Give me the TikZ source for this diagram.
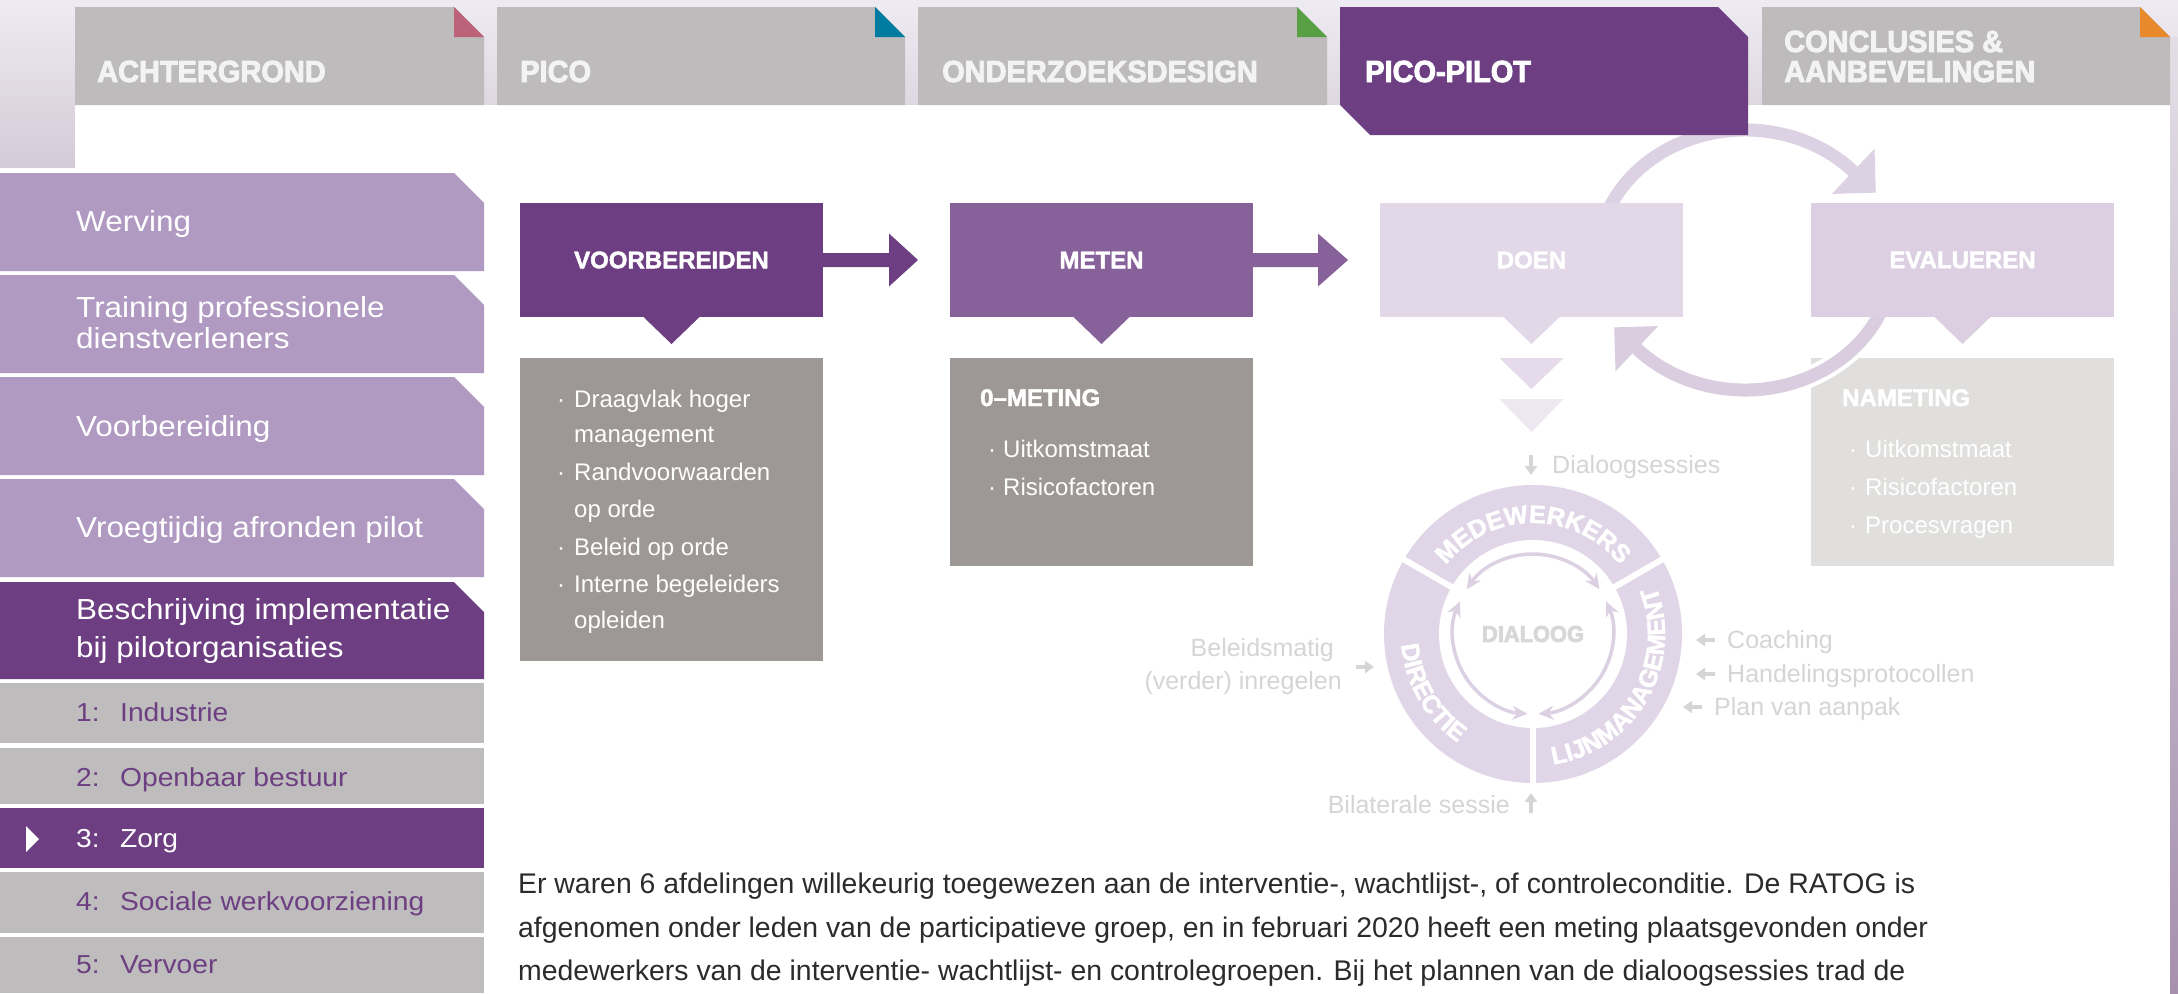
\documentclass[tikz,border=0pt]{standalone}
\usepackage{fontspec}
\setmainfont{Liberation Sans}
\newfontfamily\heavyfont{Liberation Sans}[BoldFeatures={FakeBold=3,FakeStretch=0.95}]
\newfontfamily\boxheavy{Liberation Sans}[BoldFeatures={FakeBold=2}]
\newfontfamily\menufont{Liberation Sans}[FakeStretch=1.085]
\usetikzlibrary{calc,decorations.text,arrows.meta}
\definecolor{bgl}{HTML}{EEEAF1}
\definecolor{bandb}{HTML}{DED7E2}
\definecolor{stripl}{HTML}{D3CAD7}
\definecolor{stripra}{HTML}{E3DEE6}
\definecolor{striprb}{HTML}{A690AE}
\definecolor{purD}{HTML}{6D3F82}
\definecolor{purM}{HTML}{87619A}
\definecolor{purL}{HTML}{B09AC2}
\definecolor{tabg}{HTML}{BDBBBC}
\definecolor{menug}{HTML}{BEBCBD}
\definecolor{boxg}{HTML}{9D9895}
\definecolor{boxgl}{HTML}{E0DFDD}
\definecolor{doenc}{HTML}{E2D8E8}
\definecolor{evalc}{HTML}{DBCFE1}
\definecolor{loopc}{HTML}{DDD2E4}
\definecolor{loopd}{HTML}{DACDE0}
\definecolor{trione}{HTML}{E5DBEA}
\definecolor{tritwo}{HTML}{EDE7F1}
\definecolor{ringc}{HTML}{E0D6E7}
\definecolor{inarcc}{HTML}{DCD1E3}
\definecolor{lblg}{HTML}{D6D4D4}
\definecolor{dialc}{HTML}{D8D6D6}
\definecolor{foldR}{HTML}{BC6379}
\definecolor{foldB}{HTML}{007BA0}
\definecolor{foldG}{HTML}{58A043}
\definecolor{foldO}{HTML}{E8892B}
\definecolor{tabtxt}{HTML}{F3F3F3}
\definecolor{bodyc}{HTML}{2B2B2B}
\newcommand\myfs[1]{\fontsize{#1}{#1}\selectfont}
\newcommand\ringfont{\boxheavy\bfseries\myfs{25}\color{white}}
\begin{document}
\begin{tikzpicture}[x=1pt,y=1pt,
 tabtext/.style={anchor=base west,inner sep=0pt,font=\heavyfont\bfseries\myfs{30.5},text=tabtxt},
 menutext/.style={anchor=base west,inner sep=0pt,font=\menufont\myfs{29},text=white},
 itemtext/.style={anchor=base west,inner sep=0pt,font=\menufont\myfs{26},text=purD},
 stepbox/.style={anchor=north west,minimum width=303pt,minimum height=114pt,inner sep=0pt,outer sep=0pt,font=\boxheavy\bfseries\myfs{24},text=white},
 infobox/.style={anchor=north west,minimum width=303pt,inner sep=0pt,outer sep=0pt},
 boxhead/.style={anchor=base west,inner sep=0pt,font=\boxheavy\bfseries\myfs{24},text=white},
 bul/.style={anchor=base west,inner sep=0pt,font=\myfs{24},text=white},
 lbl/.style={anchor=base west,inner sep=0pt,font=\myfs{25},text=lblg},
 smallarr/.style={draw=lblg,line width=3.2pt,-{Triangle[length=9pt,width=12pt]}},
 bodytext/.style={anchor=base west,inner sep=0pt,font=\myfs{28.4},text=bodyc},
 inarc/.style={draw=inarcc,line width=3.5pt,{Stealth[length=15pt,width=14pt]}-{Stealth[length=15pt,width=14pt]}},
 sepline/.style={draw=white,line width=6pt},
 loopline/.style={line width=13pt}
]
\useasboundingbox (0,0) rectangle (2178,-993);
% background
\fill[bgl] (0,0) rectangle (2178,-993);
\shade[top color=bgl,bottom color=bandb] (0,-7) rectangle (2178,-105);
\shade[top color=bgl,bottom color=stripl] (0,-7) rectangle (75,-168);
\shade[top color=stripra,bottom color=striprb] (2170,-37) rectangle (2178,-993);
\fill[white] (75,-105) rectangle (2170,-993);
\fill[white] (0,-168) rectangle (75,-993);

% ---------- left menu ----------
\fill[purL] (0,-173) -- (454,-173) -- (484,-203) -- (484,-271) -- (0,-271) -- cycle;
\node[menutext] (m1) at (76,-231) {Werving};
\fill[purL] (0,-275) -- (454,-275) -- (484,-305) -- (484,-373) -- (0,-373) -- cycle;
\node[menutext] (m2a) at (76,-317) {Training professionele};
\node[menutext] (m2b) at (76,-348) {dienstverleners};
\fill[purL] (0,-377) -- (454,-377) -- (484,-407) -- (484,-475) -- (0,-475) -- cycle;
\node[menutext] (m3) at (76,-436) {Voorbereiding};
\fill[purL] (0,-479) -- (454,-479) -- (484,-509) -- (484,-577) -- (0,-577) -- cycle;
\node[menutext] (m4) at (76,-537) {Vroegtijdig afronden pilot};
\fill[purD] (0,-582) -- (454,-582) -- (484,-612) -- (484,-679) -- (0,-679) -- cycle;
\node[menutext] (m5a) at (76,-619) {Beschrijving implementatie};
\node[menutext] (m5b) at (76,-657) {bij pilotorganisaties};
\fill[menug] (0,-683) rectangle (484,-743);
\node[itemtext] (i1) at (76,-721) {\makebox[44pt][l]{1:}Industrie};
\fill[menug] (0,-748) rectangle (484,-804);
\node[itemtext] (i2) at (76,-786) {\makebox[44pt][l]{2:}Openbaar bestuur};
\fill[purD] (0,-808) rectangle (484,-868);
\fill[white] (26,-826) -- (26,-852) -- (39,-839) -- cycle;
\node[itemtext,text=white] (i3) at (76,-847) {\makebox[44pt][l]{3:}Zorg};
\fill[menug] (0,-872) rectangle (484,-933);
\node[itemtext] (i4) at (76,-910) {\makebox[44pt][l]{4:}Sociale werkvoorziening};
\fill[menug] (0,-937) rectangle (484,-993);
\node[itemtext] (i5) at (76,-973) {\makebox[44pt][l]{5:}Vervoer};

% ---------- info boxes ----------
\node[infobox,fill=boxg,minimum height=303pt] (g1) at (520,-358) {};
\node[infobox,fill=boxg,minimum height=208pt] (g2) at (950,-358) {};
\node[infobox,fill=boxgl,minimum height=208pt] (g3) at (1811,-358) {};

\node[bul] (b1d) at (557,-407) {·}; \node[bul] (b1) at (574,-407) {Draagvlak hoger};
\node[bul] (b1b) at (574,-442) {management};
\node[bul] (b2d) at (557,-480) {·}; \node[bul] (b2) at (574,-480) {Randvoorwaarden};
\node[bul] (b2b) at (574,-517) {op orde};
\node[bul] (b3d) at (557,-555) {·}; \node[bul] (b3) at (574,-555) {Beleid op orde};
\node[bul] (b4d) at (557,-592) {·}; \node[bul] (b4) at (574,-592) {Interne begeleiders};
\node[bul] (b4b) at (574,-628) {opleiden};

\node[boxhead] (h2) at (980,-406) {0–METING};
\node[bul] (c1d) at (988,-457) {·}; \node[bul] (c1) at (1003,-457) {Uitkomstmaat};
\node[bul] (c2d) at (988,-495) {·}; \node[bul] (c2) at (1003,-495) {Risicofactoren};

\node[boxhead] (h3) at (1842,-406) {NAMETING};
\node[bul] (e1d) at (1849,-457) {·}; \node[bul] (e1) at (1865,-457) {Uitkomstmaat};
\node[bul] (e2d) at (1849,-495) {·}; \node[bul] (e2) at (1865,-495) {Risicofactoren};
\node[bul] (e3d) at (1849,-533) {·}; \node[bul] (e3) at (1865,-533) {Procesvragen};

% ---------- loop arrows ----------
\coordinate (loopc) at (1745,-260);
\draw[loopline,white,line width=21pt] ($(loopc)+(-20:148 and 130)$) arc[start angle=-20,end angle=-137,x radius=148,y radius=130];
\draw[loopline,draw=loopd] ($(loopc)+(-20:148 and 130)$) arc[start angle=-20,end angle=-137,x radius=148,y radius=130];
\fill[loopd] ($(loopc)+(-130.8,-67.4)$) -- ($(loopc)+(-86.9,-66.1)$) -- ($(loopc)+(-129.5,-111.3)$) -- cycle;
\draw[loopline,draw=loopc] ($(loopc)+(160:148 and 130)$) arc[start angle=160,end angle=43,x radius=148,y radius=130];
\fill[loopc] ($(loopc)+(130.8,67.4)$) -- ($(loopc)+(129.5,111.3)$) -- ($(loopc)+(86.9,66.1)$) -- cycle;

% ---------- step boxes ----------
\node[stepbox,fill=purD] (voor) at (520,-203) {VOORBEREIDEN};
\node[stepbox,fill=purM] (meten) at (950,-203) {METEN};
\node[stepbox,fill=doenc] (doen) at (1380,-203) {DOEN};
\node[stepbox,fill=evalc] (eval) at (1811,-203) {EVALUEREN};
\fill[purD] ($(voor.south)+(-28,0)$) -- ($(voor.south)+(28,0)$) -- ($(voor.south)+(0,-27)$) -- cycle;
\fill[purM] ($(meten.south)+(-28,0)$) -- ($(meten.south)+(28,0)$) -- ($(meten.south)+(0,-27)$) -- cycle;
\fill[doenc] ($(doen.south)+(-28,0)$) -- ($(doen.south)+(28,0)$) -- ($(doen.south)+(0,-27)$) -- cycle;
\fill[evalc] ($(eval.south)+(-28,0)$) -- ($(eval.south)+(28,0)$) -- ($(eval.south)+(0,-27)$) -- cycle;
\fill[trione] ($(doen.south)+(-32,-41)$) -- ($(doen.south)+(32,-41)$) -- ($(doen.south)+(0,-72)$) -- cycle;
\fill[tritwo] ($(doen.south)+(-32,-82)$) -- ($(doen.south)+(32,-82)$) -- ($(doen.south)+(0,-115)$) -- cycle;
% block arrows
\fill[purD] ($(voor.east)+(0,7)$) -- ++(66,0) -- ++(0,19.5) -- ($(voor.east)+(95,0)$) -- ($(voor.east)+(66,-26.5)$) -- ++(0,19.5) -- ($(voor.east)+(0,-7)$) -- cycle;
\fill[purM] ($(meten.east)+(0,7)$) -- ++(65,0) -- ++(0,19.5) -- ($(meten.east)+(95,0)$) -- ($(meten.east)+(65,-26.5)$) -- ++(0,19.5) -- ($(meten.east)+(0,-7)$) -- cycle;

% ---------- dialogue circle ----------
\node[circle,fill=ringc,minimum size=298pt,inner sep=0pt,outer sep=0pt] (ring) at (1533,-634) {};
\node[circle,fill=white,minimum size=188pt,inner sep=0pt,outer sep=0pt] (ringin) at (ring.center) {};
\draw[sepline] ($(ring.center)+(30:90)$) -- ($(ring.center)+(30:152)$);
\draw[sepline] ($(ring.center)+(150:90)$) -- ($(ring.center)+(150:152)$);
\draw[sepline] ($(ring.center)+(270:90)$) -- ($(ring.center)+(270:152)$);
\path[decorate,decoration={text along path,text={|\ringfont|MEDEWERKERS},text align=center}]
  ($(ring.center)+(150:111)$) arc[start angle=150,end angle=30,radius=111];
\path[decorate,decoration={text along path,text={|\ringfont|LIJNMANAGEMENT},text align=center}]
  ($(ring.center)+(-90:132)$) arc[start angle=-90,end angle=30,radius=132];
\path[decorate,decoration={text along path,text={|\ringfont|DIRECTIE},text align=center}]
  ($(ring.center)+(150:132)$) arc[start angle=150,end angle=270,radius=132];
\draw[inarc] ($(ring.center)+(146:80)$) arc[start angle=146,end angle=34,radius=80];
\draw[inarc] ($(ring.center)+(156:80)$) arc[start angle=156,end angle=266,radius=80];
\draw[inarc] ($(ring.center)+(24:80)$) arc[start angle=24,end angle=-86,radius=80];
\node[inner sep=0pt,font=\heavyfont\bfseries\myfs{23},text=dialc] (dial) at (ring.center) {DIALOOG};

% labels
\node[lbl] (l1) at (1552,-473) {Dialoogsessies};
\draw[smallarr] ($(l1.base west)+(-21,18)$) -- ++(0,-20);
\node[lbl,anchor=base east] (l2) at (1334,-656) {Beleidsmatig};
\node[lbl,anchor=base east] (l3) at (1342,-689) {(verder) inregelen};
\draw[smallarr] ($(l3.base east)+(14,22)$) -- ++(18,0);
\node[lbl] (l4) at (1727,-648) {Coaching};
\draw[smallarr] ($(l4.base west)+(-12,8)$) -- ++(-19,0);
\node[lbl] (l5) at (1727,-682) {Handelingsprotocollen};
\draw[smallarr] ($(l5.base west)+(-12,8)$) -- ++(-19,0);
\node[lbl] (l6) at (1714,-715) {Plan van aanpak};
\draw[smallarr] ($(l6.base west)+(-12,8)$) -- ++(-19,0);
\node[lbl,anchor=base east] (l7) at (1510,-813) {Bilaterale sessie};
\draw[smallarr] ($(l7.base east)+(21,0)$) -- ++(0,20);

% body text
\node[bodytext] (p1) at (518,-893) {Er waren 6 afdelingen willekeurig toegewezen aan de interventie-, wachtlijst-, of controleconditie. De RATOG is};
\node[bodytext] (p2) at (518,-937) {afgenomen onder leden van de participatieve groep, en in februari 2020 heeft een meting plaatsgevonden onder};
\node[bodytext] (p3) at (518,-980) {medewerkers van de interventie- wachtlijst- en controlegroepen. Bij het plannen van de dialoogsessies trad de};

% ---------- tabs ----------
\fill[tabg] (75,-7) -- (454,-7) -- (484,-37) -- (484,-105) -- (75,-105) -- cycle;
\fill[foldR] (454,-7) -- (454,-37) -- (484,-37) -- cycle;
\node[tabtext] (t1) at (97,-82) {ACHTERGROND};
\fill[tabg] (497,-7) -- (875,-7) -- (905,-37) -- (905,-105) -- (497,-105) -- cycle;
\fill[foldB] (875,-7) -- (875,-37) -- (905,-37) -- cycle;
\node[tabtext] (t2) at (520,-82) {PICO};
\fill[tabg] (918,-7) -- (1297,-7) -- (1327,-37) -- (1327,-105) -- (918,-105) -- cycle;
\fill[foldG] (1297,-7) -- (1297,-37) -- (1327,-37) -- cycle;
\node[tabtext] (t3) at (942,-82) {ONDERZOEKSDESIGN};
\fill[purD] (1340,-7) -- (1718,-7) -- (1748,-37) -- (1748,-135) -- (1370,-135) -- (1340,-105) -- cycle;
\node[tabtext,text=white] (t4) at (1365,-82) {PICO-PILOT};
\fill[tabg] (1762,-7) -- (2140,-7) -- (2170,-37) -- (2170,-105) -- (1762,-105) -- cycle;
\fill[foldO] (2140,-7) -- (2140,-37) -- (2170,-37) -- cycle;
\node[tabtext] (t5a) at (1784,-52) {CONCLUSIES \&};
\node[tabtext] (t5b) at (1784,-82) {AANBEVELINGEN};
\end{tikzpicture}
\end{document}
